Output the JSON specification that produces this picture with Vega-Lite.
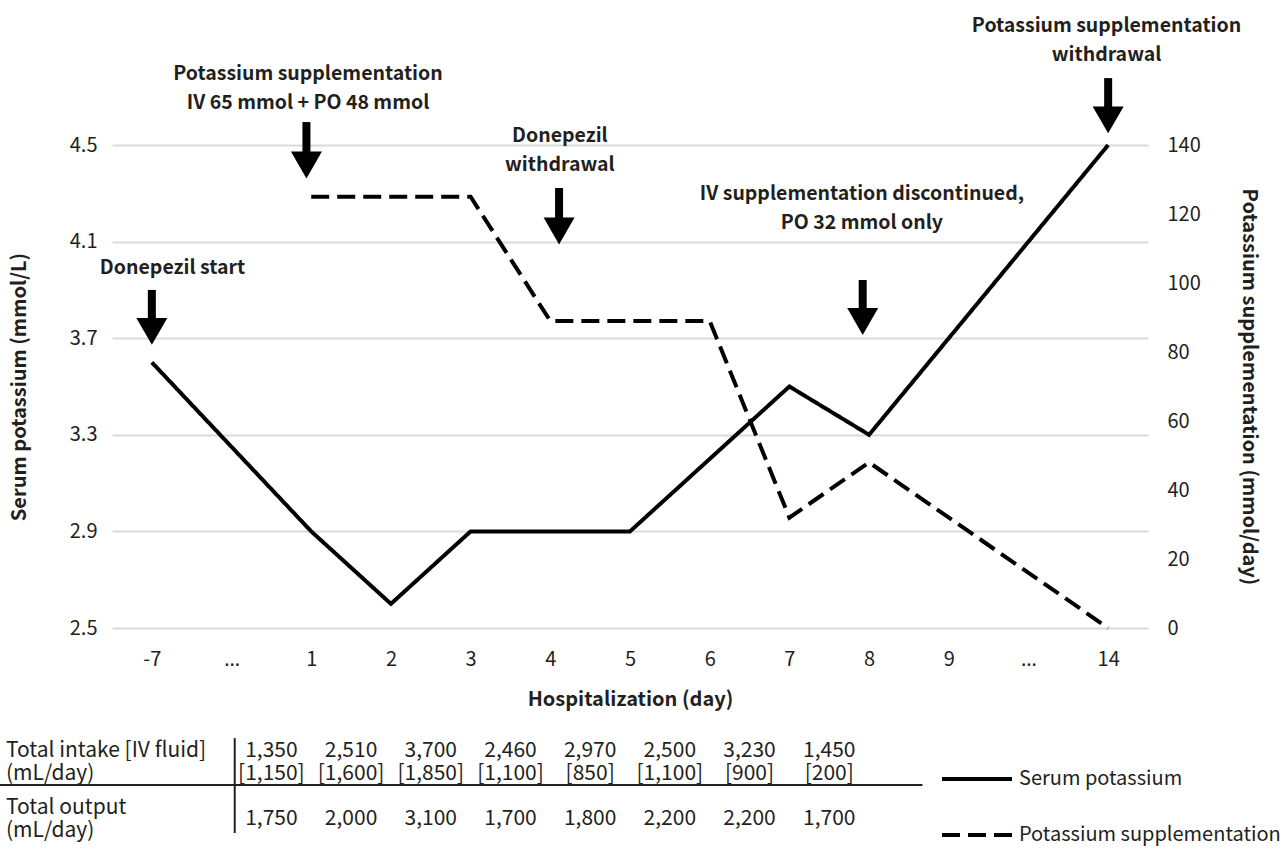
{
  "$schema": "https://vega.github.io/schema/vega-lite/v6.json",
  "width": 1036,
  "height": 483,
  "autosize": {"type": "none"},
  "padding": {"left": 112, "top": 145, "right": 137, "bottom": 235},
  "background": "white",
  "config": {
    "font": "Noto Sans CJK KR",
    "view": {"stroke": null},
    "axis": {
      "labelFont": "Noto Sans CJK KR",
      "labelFontSize": 20,
      "labelColor": "#231f20",
      "titleFont": "Noto Sans CJK KR",
      "titleFontSize": 20,
      "titleFontWeight": "bold",
      "titleColor": "#231f20",
      "domain": false,
      "ticks": false,
      "grid": false
    },
    "text": {"font": "Noto Sans CJK KR", "color": "#231f20"}
  },
  "datasets": {
    "serum": [
      {"pos": 0, "day": "-7", "k": 3.6},
      {"pos": 2, "day": "1", "k": 2.9},
      {"pos": 3, "day": "2", "k": 2.6},
      {"pos": 4, "day": "3", "k": 2.9},
      {"pos": 5, "day": "4", "k": 2.9},
      {"pos": 6, "day": "5", "k": 2.9},
      {"pos": 7, "day": "6", "k": 3.2},
      {"pos": 8, "day": "7", "k": 3.5},
      {"pos": 9, "day": "8", "k": 3.3},
      {"pos": 12, "day": "14", "k": 4.5}
    ],
    "supp": [
      {"pos": 2, "day": "1", "s": 125},
      {"pos": 3, "day": "2", "s": 125},
      {"pos": 4, "day": "3", "s": 125},
      {"pos": 5, "day": "4", "s": 89},
      {"pos": 6, "day": "5", "s": 89},
      {"pos": 7, "day": "6", "s": 89},
      {"pos": 8, "day": "7", "s": 32},
      {"pos": 9, "day": "8", "s": 48},
      {"pos": 12, "day": "14", "s": 0}
    ],
    "events": [
      {"pos": 0, "label": "Donepezil start", "textY": 3.966, "arrowTop": 3.9, "arrowHead": 3.728, "textPos": 0.26},
      {"pos": 1.94, "label": "Potassium supplementation\nIV 65 mmol + PO 48 mmol", "textY": 4.769, "arrowTop": 4.595, "arrowHead": 4.417, "textPos": 1.96},
      {"pos": 5.11, "label": "Donepezil\nwithdrawal", "textY": 4.512, "arrowTop": 4.322, "arrowHead": 4.144, "textPos": 5.12},
      {"pos": 8.92, "label": "IV supplementation discontinued,\nPO 32 mmol only", "textY": 4.272, "arrowTop": 3.941, "arrowHead": 3.769, "textPos": 8.91},
      {"pos": 12, "label": "Potassium supplementation\nwithdrawal", "textY": 4.968, "arrowTop": 4.777, "arrowHead": 4.604, "textPos": 11.98}
    ],
    "table": [
      {"col": 1.5, "day": "1", "intake": "1,350", "iv": "[1,150]", "output": "1,750"},
      {"col": 2.5, "day": "2", "intake": "2,510", "iv": "[1,600]", "output": "2,000"},
      {"col": 3.5, "day": "3", "intake": "3,700", "iv": "[1,850]", "output": "3,100"},
      {"col": 4.5, "day": "4", "intake": "2,460", "iv": "[1,100]", "output": "1,700"},
      {"col": 5.5, "day": "5", "intake": "2,970", "iv": "[850]", "output": "1,800"},
      {"col": 6.5, "day": "6", "intake": "2,500", "iv": "[1,100]", "output": "2,200"},
      {"col": 7.5, "day": "7", "intake": "3,230", "iv": "[900]", "output": "2,200"},
      {"col": 8.5, "day": "8", "intake": "1,450", "iv": "[200]", "output": "1,700"}
    ],
    "rowLabels": [
      {"rowLabel": "Total intake [IV fluid]", "ly": 1.966},
      {"rowLabel": "(mL/day)", "ly": 1.871},
      {"rowLabel": "Total output", "ly": 1.730},
      {"rowLabel": "(mL/day)", "ly": 1.635}
    ],
    "tableRules": [
      {"x1": -1.91, "x2": 9.67, "y1": 1.85, "y2": 1.85},
      {"x1": 1.04, "x2": 1.04, "y1": 2.044, "y2": 1.651}
    ]
  },
  "layer": [
    {
      "data": {"name": "serum"},
      "mark": {"type": "line", "strokeWidth": 4, "color": "#000000", "strokeJoin": "miter", "clip": false},
      "encoding": {
        "x": {
          "field": "pos", "type": "quantitative",
          "scale": {"domain": [-0.5, 12.5], "nice": false, "zero": false},
          "axis": {
            "values": [0, 1, 2, 3, 4, 5, 6, 7, 8, 9, 10, 11, 12],
            "labelExpr": "['-7','…','1','2','3','4','5','6','7','8','9','…','14'][datum.value]",
            "labelFont": {"condition": {"test": "datum.value == 1 || datum.value == 11", "value": "Noto Sans"}, "value": "Noto Sans CJK KR"},
            "title": "Hospitalization (day)",
            "labelPadding": 21,
            "titlePadding": 20,
            "labelFlush": false,
            "labelOverlap": false
          }
        },
        "y": {
          "field": "k", "type": "quantitative",
          "scale": {"domain": [2.5, 4.5], "nice": false, "zero": false},
          "axis": {
            "values": [2.5, 2.9, 3.3, 3.7, 4.1, 4.5],
            "format": ".1f",
            "grid": true,
            "gridColor": "#d9d9d9",
            "gridWidth": 2,
            "labelPadding": 15,
            "title": "Serum potassium (mmol/L)",
            "titlePadding": 40
          }
        },
        "strokeDash": {
          "datum": "Serum potassium",
          "type": "nominal",
          "scale": {"domain": ["Serum potassium", "Potassium supplementation"], "range": [[1, 0], [18, 8]]},
          "legend": {
            "orient": "none",
            "legendX": 828,
            "legendY": 597,
            "title": null,
            "padding": 0,
            "symbolType": "stroke",
            "symbolSize": 4900,
            "symbolStrokeWidth": 4,
            "symbolStrokeColor": "#000000",
            "labelFontSize": 20,
            "labelFont": "Noto Sans CJK KR",
            "labelColor": "#231f20",
            "labelOffset": 5,
            "rowPadding": 9,
            "labelLimit": 400
          }
        }
      }
    },
    {
      "data": {"name": "events"},
      "mark": {"type": "rule", "strokeWidth": 8, "color": "#000000", "strokeCap": "butt", "clip": false},
      "encoding": {
        "x": {"field": "pos", "type": "quantitative", "scale": {"domain": [-0.5, 12.5], "nice": false, "zero": false}, "axis": null},
        "y": {"field": "arrowTop", "type": "quantitative", "scale": {"domain": [2.5, 4.5], "nice": false, "zero": false}, "axis": null},
        "y2": {"field": "arrowHead"}
      }
    },
    {
      "data": {"name": "events"},
      "mark": {"type": "point", "shape": "triangle-down", "size": 961, "filled": true, "color": "#000000", "opacity": 1, "strokeWidth": 0, "clip": false},
      "encoding": {
        "x": {"field": "pos", "type": "quantitative", "scale": {"domain": [-0.5, 12.5], "nice": false, "zero": false}, "axis": null},
        "y": {"field": "arrowHead", "type": "quantitative", "scale": {"domain": [2.5, 4.5], "nice": false, "zero": false}, "axis": null}
      }
    },
    {
      "data": {"name": "events"},
      "mark": {"type": "text", "fontSize": 19.5, "fontWeight": "bold", "lineBreak": "\n", "lineHeight": 29, "baseline": "alphabetic", "align": "center", "clip": false},
      "encoding": {
        "x": {"field": "textPos", "type": "quantitative", "scale": {"domain": [-0.5, 12.5], "nice": false, "zero": false}, "axis": null},
        "y": {"field": "textY", "type": "quantitative", "scale": {"domain": [2.5, 4.5], "nice": false, "zero": false}, "axis": null},
        "text": {"field": "label", "type": "nominal"}
      }
    },
    {
      "data": {"name": "table"},
      "mark": {"type": "text", "fontSize": 21, "baseline": "alphabetic", "align": "center", "clip": false},
      "encoding": {
        "x": {"field": "col", "type": "quantitative", "scale": {"domain": [-0.5, 12.5], "nice": false, "zero": false}, "axis": null},
        "y": {"datum": 1.966, "type": "quantitative", "scale": {"domain": [2.5, 4.5], "nice": false, "zero": false}, "axis": null},
        "text": {"field": "intake", "type": "nominal"}
      }
    },
    {
      "data": {"name": "table"},
      "mark": {"type": "text", "fontSize": 21, "baseline": "alphabetic", "align": "center", "clip": false},
      "encoding": {
        "x": {"field": "col", "type": "quantitative", "scale": {"domain": [-0.5, 12.5], "nice": false, "zero": false}, "axis": null},
        "y": {"datum": 1.871, "type": "quantitative", "scale": {"domain": [2.5, 4.5], "nice": false, "zero": false}, "axis": null},
        "text": {"field": "iv", "type": "nominal"}
      }
    },
    {
      "data": {"name": "table"},
      "mark": {"type": "text", "fontSize": 21, "baseline": "alphabetic", "align": "center", "clip": false},
      "encoding": {
        "x": {"field": "col", "type": "quantitative", "scale": {"domain": [-0.5, 12.5], "nice": false, "zero": false}, "axis": null},
        "y": {"datum": 1.684, "type": "quantitative", "scale": {"domain": [2.5, 4.5], "nice": false, "zero": false}, "axis": null},
        "text": {"field": "output", "type": "nominal"}
      }
    },
    {
      "data": {"name": "rowLabels"},
      "mark": {"type": "text", "fontSize": 21, "baseline": "alphabetic", "align": "left", "clip": false},
      "encoding": {
        "x": {"datum": -1.83, "type": "quantitative", "scale": {"domain": [-0.5, 12.5], "nice": false, "zero": false}, "axis": null},
        "y": {"field": "ly", "type": "quantitative", "scale": {"domain": [2.5, 4.5], "nice": false, "zero": false}, "axis": null},
        "text": {"field": "rowLabel", "type": "nominal"}
      }
    },
    {
      "data": {"name": "tableRules"},
      "mark": {"type": "rule", "strokeWidth": 2, "color": "#231f20", "clip": false},
      "encoding": {
        "x": {"field": "x1", "type": "quantitative", "scale": {"domain": [-0.5, 12.5], "nice": false, "zero": false}, "axis": null},
        "x2": {"field": "x2"},
        "y": {"field": "y1", "type": "quantitative", "scale": {"domain": [2.5, 4.5], "nice": false, "zero": false}, "axis": null},
        "y2": {"field": "y2"}
      }
    },
    {
      "data": {"name": "supp"},
      "mark": {"type": "line", "strokeWidth": 4, "color": "#000000", "strokeJoin": "miter", "clip": false},
      "encoding": {
        "x": {"field": "pos", "type": "quantitative", "scale": {"domain": [-0.5, 12.5], "nice": false, "zero": false}, "axis": null},
        "y": {
          "field": "s", "type": "quantitative",
          "scale": {"domain": [0, 140], "nice": false, "zero": false},
          "axis": {
            "orient": "right",
            "values": [0, 20, 40, 60, 80, 100, 120, 140],
            "grid": false,
            "labelPadding": 19,
            "title": "Potassium supplementation (mmol/day)",
            "titlePadding": 38
          }
        },
        "strokeDash": {"datum": "Potassium supplementation", "type": "nominal"}
      }
    }
  ],
  "resolve": {
    "scale": {"y": "independent"},
    "axis": {"x": "independent", "y": "independent"}
  }
}
